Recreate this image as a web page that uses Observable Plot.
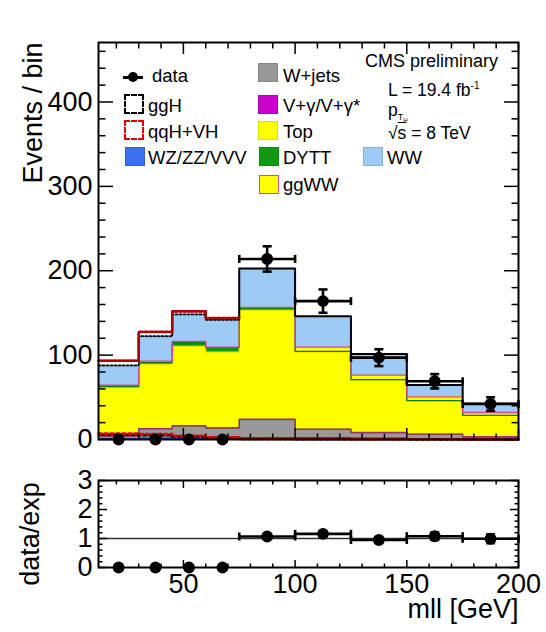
<!DOCTYPE html>
<html><head><meta charset="utf-8">
<script src="https://cdn.jsdelivr.net/npm/d3@7"></script>
<script src="https://cdn.jsdelivr.net/npm/@observablehq/plot@0.6"></script>
<style>
body{margin:0;background:#fff;}
#wrap{position:relative;width:546px;height:632px;font-family:"Liberation Sans",Arial,Helvetica,sans-serif;overflow:hidden;background:#fff;}
#wrap svg{display:block;}
.lg{position:absolute;font-size:18.5px;line-height:1;white-space:nowrap;color:#000;}
.box{position:absolute;box-sizing:border-box;}
</style></head><body><div id="wrap"></div>
<script>
// ---- data ----
const edges = [12, 30, 45, 60, 75, 100, 125, 150, 175, 200];
const processes = ["WZ/ZZ/VVV", "W+jets", "V+γ/V+γ*", "Top", "DYTT", "ggWW", "WW"];
const fills = ["#3a6ff0", "#999999", "#cc00cc", "#ffff00", "#119911", "#ffff00", "#9ecbf5"];
const edgeColors = ["#1a3fc0", "#6b5d50", "#9a3070", "#e8e800", "#0a7a0a", "#e0409a", "#8fbde8"];
const vvv   = [1, 1.5, 1.5, 1.5, 2, 2, 1.5, 1, 0.5];
const wjets = [3, 11, 14.5, 12, 21.5, 10, 6.5, 5, 2.3];
const vgam  = [0.3, 0.4, 0.4, 0.4, 0.5, 0.4, 0.4, 0.3, 0.2];
const topq  = [57, 76, 94, 89.5, 129, 91, 62, 39.5, 25.5];
const dytt  = [1.5, 2.5, 4, 5.5, 3, 1, 0.5, 0.3, 0.2];
const ggww  = [1.5, 1.5, 2, 0.5, 0.5, 5, 5.5, 4.5, 3.3];
const ww    = [22, 28, 31, 32, 45.5, 36, 24.5, 13.7, 10.6];
const ggH   = [5.5, 5, 3.5, 2, 0.6, 0.4, 0.3, 0.2, 0.1];
const qqH   = [1.5, 1.6, 1, 0.5, 0.2, 0.15, 0.1, 0.1, 0.05];
const dataVals = [0, 0, 0, 0, 214, 164, 97, 69, 42];
const dataErr  = [0, 0, 0, 0, 15, 13.8, 10, 8.5, 8];
const ratioVals = [0, 0, 0, 0, 1.07, 1.16, 0.95, 1.08, 0.99];
const ratioErr  = [0, 0, 0, 0, 0.07, 0.09, 0.1, 0.13, 0.15];
const yTicksMain = [0, 100, 200, 300, 400];
const yTicksRatio = [0, 1, 2, 3];
const xTicks = [50, 100, 150, 200];
const series = [vvv, wjets, vgam, topq, dytt, ggww, ww];

// ---- tables built from the arrays ----
const nb = edges.length - 1;
const bins = d3.range(nb).map(i => ({lo: edges[i], hi: edges[i + 1], mid: (edges[i] + edges[i + 1]) / 2}));
const cum = new Array(nb).fill(0);
const stackRows = [], stepRows = [];
processes.forEach((p, k) => {
  bins.forEach((b, i) => {
    const y1 = cum[i], y2 = y1 + series[k][i];
    stackRows.push({process: p, lo: b.lo, hi: b.hi, y1, y2, fill: fills[k]});
    cum[i] = y2;
  });
  bins.forEach((b, i) => stepRows.push({process: p, x: b.lo, y: cum[i], stroke: edgeColors[k]}));
  stepRows.push({process: p, x: edges[nb], y: cum[nb - 1], stroke: edgeColors[k]});
});
const bgTotal = cum.slice();
function stepPts(vals, keep = () => true) {
  const idx = d3.range(nb).filter(keep);
  const pts = idx.map(i => ({x: bins[i].lo, y: vals[i]}));
  const last = idx[idx.length - 1];
  pts.push({x: bins[last].hi, y: vals[last]});
  return pts;
}
const sigA = bgTotal.map((v, i) => v + qqH[i]);
const sigB = sigA.map((v, i) => v + ggH[i]);
const visibleSig = i => ggH[i] + qqH[i] >= 1;
const lowA = ggH.slice();
const lowB = ggH.map((v, i) => v + qqH[i]);
const rows = bins.map((b, i) => ({...b, v: dataVals[i], e: dataErr[i], r: ratioVals[i], re: ratioErr[i]}));
const withData = rows.filter(d => d.v > 0);

const vbar = {draw(ctx, size) { const r = Math.sqrt(size / Math.PI); ctx.moveTo(0, -r); ctx.lineTo(0, r); }};
const hbar = {draw(ctx, size) { const r = Math.sqrt(size / Math.PI); ctx.moveTo(-r, 0); ctx.lineTo(r, 0); }};

const font = '"Liberation Sans", Arial, Helvetica, sans-serif';
const xdom = [edges[0], edges[nb]];
const xMinor = d3.range(20, 200, 10).filter(v => v % 50 !== 0);

function frameTicks(yMajor, yMinor, ySize, xSize, yLabels) {
  return [
    Plot.axisY({ticks: yMajor, anchor: "left", tickSize: -ySize, fill: "none", label: null, strokeWidth: 1.5}),
    Plot.axisY({ticks: yMinor, anchor: "left", tickSize: -ySize / 2, fill: "none", label: null, strokeWidth: 1.5}),
    Plot.axisY({ticks: yMajor, anchor: "right", tickSize: -ySize, fill: "none", label: null, strokeWidth: 1.5}),
    Plot.axisY({ticks: yMinor, anchor: "right", tickSize: -ySize / 2, fill: "none", label: null, strokeWidth: 1.5}),
    Plot.axisX({ticks: xTicks, anchor: "bottom", tickSize: -xSize, fill: "none", label: null, strokeWidth: 1.5}),
    Plot.axisX({ticks: xMinor, anchor: "bottom", tickSize: -xSize / 2, fill: "none", label: null, strokeWidth: 1.5}),
    Plot.axisX({ticks: xTicks, anchor: "top", tickSize: -xSize, fill: "none", label: null, strokeWidth: 1.5}),
    Plot.axisX({ticks: xMinor, anchor: "top", tickSize: -xSize / 2, fill: "none", label: null, strokeWidth: 1.5}),
    Plot.axisY({ticks: yLabels, anchor: "left", tickSize: 0, tickPadding: 6, fontSize: 27, label: null, tickFormat: d => String(d)})
  ];
}

function errorMarks(yKey, eKey, sw) {
  return [
    Plot.ruleY(withData, {x1: "lo", x2: "hi", y: yKey, stroke: "black", strokeWidth: sw}),
    Plot.ruleX(withData, {x: "mid", y1: d => d[yKey] - d[eKey], y2: d => d[yKey] + d[eKey], stroke: "black", strokeWidth: sw}),
    Plot.dot(withData, {x: "lo", y: yKey, symbol: vbar, r: 4, fill: "none", stroke: "black", strokeWidth: sw}),
    Plot.dot(withData, {x: "hi", y: yKey, symbol: vbar, r: 4, fill: "none", stroke: "black", strokeWidth: sw}),
    Plot.dot(withData, {x: "mid", y: d => d[yKey] + d[eKey], symbol: hbar, r: 4.5, fill: "none", stroke: "black", strokeWidth: sw}),
    Plot.dot(withData, {x: "mid", y: d => d[yKey] - d[eKey], symbol: hbar, r: 4.5, fill: "none", stroke: "black", strokeWidth: sw}),
    Plot.dot(rows, {x: "mid", y: yKey, r: 5.2, fill: "black", stroke: "black"})
  ];
}

const main = Plot.plot({
  width: 546, height: 450, marginLeft: 98, marginRight: 28, marginTop: 42, marginBottom: 11,
  style: {fontFamily: font, background: "white", color: "black", overflow: "visible"},
  x: {domain: xdom}, y: {domain: [0, 470.5]}, color: {type: "identity"},
  marks: [
    Plot.rect(stackRows, {x1: "lo", x2: "hi", y1: "y1", y2: "y2", fill: "fill", shapeRendering: "crispEdges"}),
    Plot.line(stepRows, {x: "x", y: "y", z: "process", stroke: "stroke", strokeWidth: 1.3, curve: "step-after"}),
    Plot.line(stepPts(sigA, visibleSig), {x: "x", y: "y", curve: "step-after", stroke: "black", strokeWidth: 1.8, strokeDasharray: "2,2"}),
    Plot.line(stepPts(sigB), {x: "x", y: "y", curve: "step-after", stroke: "black", strokeWidth: 2}),
    Plot.line(stepPts(sigB, visibleSig), {x: "x", y: "y", curve: "step-after", stroke: "#b00000", strokeWidth: 2.6, strokeDasharray: "3,2"}),
    Plot.line(stepPts(lowA), {x: "x", y: "y", curve: "step-after", stroke: "black", strokeWidth: 2.6, strokeDasharray: "3,3", strokeDashoffset: 3}),
    Plot.line(stepPts(lowB), {x: "x", y: "y", curve: "step-after", stroke: "#e00000", strokeWidth: 2.6, strokeDasharray: "3,3"}),
    ...frameTicks(yTicksMain, d3.range(20, 470, 20).filter(v => v % 100 !== 0), 15, 11, yTicksMain),
    Plot.frame({stroke: "black", strokeWidth: 2}),
    ...errorMarks("v", "e", 2.6),
    Plot.text(["Events / bin"], {frameAnchor: "top-left", rotate: -90, textAnchor: "end", dx: -76, fontSize: 27})
  ]
});

const ratioPlot = Plot.plot({
  width: 546, height: 182, marginLeft: 98, marginRight: 28, marginTop: 30, marginBottom: 65,
  style: {fontFamily: font, background: "white", color: "black", overflow: "visible"},
  x: {domain: xdom}, y: {domain: [0, 3]}, color: {type: "identity"},
  marks: [
    Plot.ruleY([1], {stroke: "#333", strokeWidth: 1.4}),
    ...frameTicks(yTicksRatio, d3.range(0.2, 3, 0.2).filter(v => Math.abs(v - Math.round(v)) > 0.01), 9, 7, yTicksRatio),
    Plot.axisX({ticks: xTicks, anchor: "bottom", tickSize: 0, tickPadding: 6, fontSize: 27, label: null}),
    Plot.frame({stroke: "black", strokeWidth: 2}),
    ...errorMarks("r", "re", 2.6),
    Plot.text(["data/exp"], {frameAnchor: "left", rotate: -90, textAnchor: "middle", dx: -68, dy: 10, fontSize: 27}),
    Plot.text(["mll [GeV]"], {frameAnchor: "bottom-right", textAnchor: "end", dy: 50, fontSize: 27})
  ]
});

const wrap = document.getElementById("wrap");
wrap.append(main, ratioPlot);

// ---- legend (HTML overlay) ----
function box(x, y, w, h, css) {
  const d = document.createElement("div");
  d.className = "box";
  Object.assign(d.style, {left: x + "px", top: y + "px", width: w + "px", height: h + "px"}, css);
  wrap.append(d);
}
function label(x, baseline, html, size = 18.5) {
  const d = document.createElement("div");
  d.className = "lg";
  d.style.fontSize = size + "px";
  d.style.left = x + "px";
  d.style.top = (baseline - size * 0.8465) + "px";
  d.innerHTML = html;
  wrap.append(d);
}
// data entry
box(123, 76, 20, 2.5, {background: "#000"});
box(128, 72, 10, 10, {background: "#000", borderRadius: "50%"});
label(152, 83, "data");
box(124, 94, 20, 20, {border: "2.5px dashed #000"});
label(148, 113, "ggH");
box(124, 120, 20, 20, {border: "2.5px dashed #e00000"});
label(148, 139, "qqH+VH");
const legendCols = [
  {i: 0, x: 125, y: 147, tx: 148, base: 165},
  {i: 1, x: 258, y: 63, tx: 283, base: 83},
  {i: 2, x: 258, y: 95, tx: 283, base: 113},
  {i: 3, x: 258, y: 121, tx: 283, base: 139},
  {i: 4, x: 259, y: 147, tx: 283, base: 165},
  {i: 6, x: 363, y: 147, tx: 387, base: 165},
  {i: 5, x: 259, y: 175, tx: 283, base: 192}
];
legendCols.forEach(c => {
  const border = c.i === 5 ? "1.5px solid #e040b0" : "1px solid " + d3.color(fills[c.i]).darker(0.4);
  box(c.x, c.y, 20, 19, {background: fills[c.i], border});
  label(c.tx, c.base, processes[c.i]);
});
label(365, 67, "CMS preliminary", 18);
label(388, 97, 'L = 19.4 fb<sup style="font-size:10px;vertical-align:7px;line-height:0">-1</sup>', 17.5);
label(388, 117, 'p<span style="font-size:9px;vertical-align:-4px;line-height:0">T<span style="font-size:6px;vertical-align:-2px;line-height:0">H</span></span>', 17.5);
label(388, 140, '√<span style="text-decoration:overline">s</span> = 8 TeV', 17.5);
</script></body></html>
